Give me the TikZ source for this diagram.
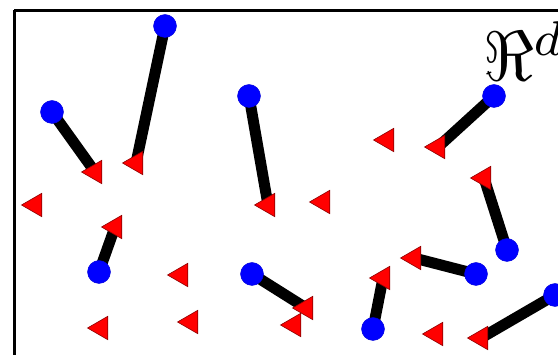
\documentclass[tikz,border=0pt]{standalone}
\usepackage{graphicx}
\usetikzlibrary{shapes.geometric,backgrounds}
\begin{document}
\begin{tikzpicture}[x=1pt,y=-1pt,
  tri/.style={regular polygon,regular polygon sides=3,shape border rotate=90,fill=red,draw=red!55!black,line width=0.6pt,inner sep=0pt,minimum size=27pt},
  dot/.style={circle,fill=blue,draw=blue!85!black,line width=0.4pt,inner sep=0pt,minimum size=23pt},
  link/.style={line width=11pt,black},
  frame/.style={line width=3pt,black}]
\useasboundingbox (0,0) rectangle (558,355);
\draw[frame] (14,10.5) -- (620,10.5) (14,10.5) -- (14,400);
% label
\node[anchor=base west,inner sep=0pt] (lbl) at (483,81) {\scalebox{7}{$\Re^d$}};
% triangles (linked)
\node[tri] (t1) at (136,163) {};
\node[tri] (t2) at (95,172) {};
\node[tri] (t3) at (268,205) {};
\node[tri] (t4) at (438,147) {};
\node[tri] (t5) at (484,178) {};
\node[tri] (t6) at (414,258) {};
\node[tri] (t7) at (383,278) {};
\node[tri] (t8) at (306,308) {};
\node[tri] (t9) at (481,338) {};
\node[tri] (t10) at (115,227) {};
% free triangles
\node[tri] (t11) at (35,205) {};
\node[tri] (t12) at (323,202) {};
\node[tri] (t13) at (387,140) {};
\node[tri] (t14) at (181,275) {};
\node[tri] (t15) at (101,328) {};
\node[tri] (t16) at (191,322) {};
\node[tri] (t17) at (294,325) {};
\node[tri] (t18) at (436,334) {};
% circles
\node[dot] (A) at (165,26) {};
\node[dot] (B) at (52,112) {};
\node[dot] (C) at (249,96) {};
\node[dot] (D) at (494,96) {};
\node[dot] (E) at (507,250) {};
\node[dot] (F) at (476,274) {};
\node[dot] (G) at (373,329) {};
\node[dot] (H) at (252,274) {};
\node[dot] (I) at (555,295) {};
\node[dot] (J) at (99,272) {};
\begin{pgfonlayer}{background}
\fill[white] (0,0) rectangle (558,355);
\draw[link] (A.center) -- (t1.center);
\draw[link] (B.center) -- (t2.center);
\draw[link] (C.center) -- (t3.center);
\draw[link] (D.center) -- (t4.center);
\draw[link] (E.center) -- (t5.center);
\draw[link] (F.center) -- (t6.center);
\draw[link] (G.center) -- (t7.center);
\draw[link] (H.center) -- (t8.center);
\draw[link] (I.center) -- (t9.center);
\draw[link] (J.center) -- (t10.center);
\end{pgfonlayer}
\end{tikzpicture}
\end{document}
